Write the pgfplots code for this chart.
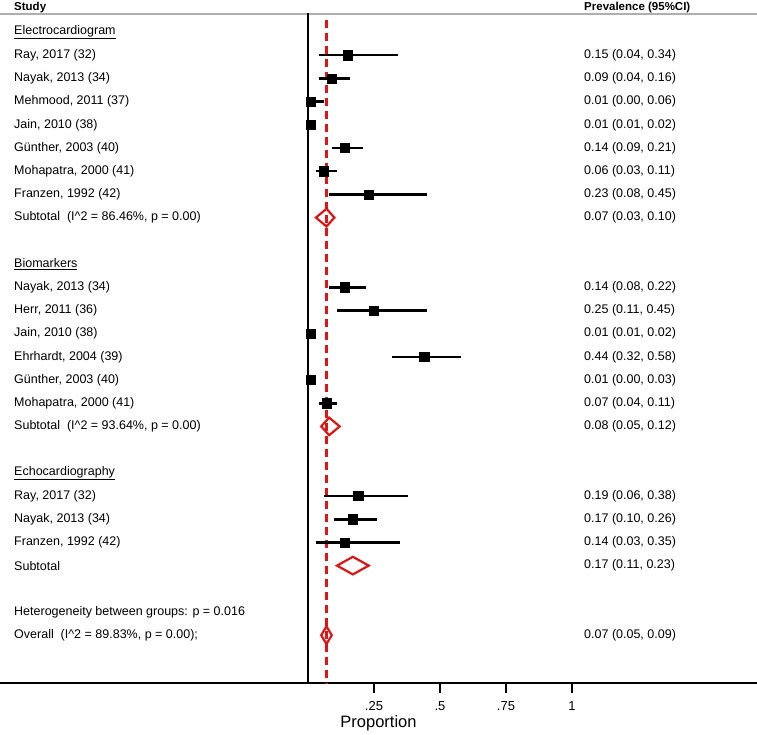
\documentclass[border=0pt]{standalone}
\usepackage{pgfplots}
\pgfplotsset{compat=1.18}
\usepackage{pgfplotstable}
\usepackage{fontspec}
\setmainfont{Liberation Sans}
\definecolor{hdrgray}{RGB}{175,175,175}
\definecolor{dred}{RGB}{225,20,20}

% studies: x = estimate, y = -row, em/ep = distance to CI limits
\pgfplotstableread{
x     y    em    ep
0.15  -1   0.11  0.19
0.09  -2   0.05  0.07
0.01  -3   0.01  0.05
0.01  -4   0.00  0.01
0.14  -5   0.05  0.07
0.06  -6   0.03  0.05
0.23  -7   0.15  0.22
0.14  -11  0.06  0.08
0.25  -12  0.14  0.20
0.01  -13  0.00  0.01
0.44  -14  0.12  0.14
0.01  -15  0.01  0.02
0.07  -16  0.03  0.04
0.19  -20  0.13  0.19
0.17  -21  0.07  0.09
0.14  -22  0.11  0.21
}\studies

\begin{document}
\begin{tikzpicture}
\begin{axis}[
  at={(0,0)}, anchor=north west,
  scale only axis, width=757pt, height=683pt,
  xmin=-1.1667, xmax=1.7008,
  ymin=-28.06, ymax=1.379,
  axis x line*=bottom, axis y line=none,
  axis line style={line width=2pt, black},
  xtick={0.25,0.5,0.75,1},
  xticklabels={.25,.5,.75,1},
  xtick align=outside,
  major tick length=10pt,
  tick style={line width=2pt, black},
  ticklabel style={font=\fontsize{13}{15}\selectfont},
  xticklabel style={yshift=-5pt},
  /pgf/number format/assume math mode=true,
  xlabel={Proportion},
  xlabel style={font=\fontsize{16.5}{18}\selectfont, yshift=2pt},
  clip=false,
]
% header rule
\draw[hdrgray, line width=1.5pt] (axis cs:-1.1667,0.78) -- (axis cs:1.7008,0.78);
% vertical lines
\addplot[black, line width=2.6pt, forget plot] coordinates {(0,0.80) (0,-28.06)};
\addplot[dred, line width=2.6pt, dash pattern=on 8pt off 5pt, forget plot] coordinates {(0.07,0.52) (0.07,-28.06)};
% studies
\addplot[only marks, mark=square*, mark size=4.6pt, black,
  error bars/.cd, x dir=both, x explicit, error mark=none,
  error bar style={line width=2.6pt, black}]
  table[x=x, y=y, x error minus=em, x error plus=ep] {\studies};
% diamonds
\addplot[dred, line width=2.2pt] coordinates {(0.03,-8) (0.07,-7.62) (0.10,-8) (0.07,-8.38)} -- cycle;
\addplot[dred, line width=2.2pt] coordinates {(0.05,-17) (0.08,-16.62) (0.12,-17) (0.08,-17.38)} -- cycle;
\addplot[dred, line width=2.2pt] coordinates {(0.11,-23) (0.17,-22.62) (0.23,-23) (0.17,-23.38)} -- cycle;
\addplot[dred, line width=2.2pt] coordinates {(0.05,-26) (0.07,-25.62) (0.09,-26) (0.07,-26.38)} -- cycle;

\begin{scope}[every node/.style={anchor=west, inner sep=0pt, font=\fontsize{12.5}{14}\selectfont}]
\node[font=\fontsize{11.5}{14}\selectfont\bfseries] at (axis cs:-1.1136,1.05) {Study};
\node[font=\fontsize{11.5}{14}\selectfont\bfseries] at (axis cs:1.0455,1.05) {Prevalence (95\%CI)};
\node at (axis cs:-1.1136,0) {\underline{Electrocardiogram}};
\node at (axis cs:-1.1136,-1) {Ray, 2017 (32)};
\node at (axis cs:-1.1136,-2) {Nayak, 2013 (34)};
\node at (axis cs:-1.1136,-3) {Mehmood, 2011 (37)};
\node at (axis cs:-1.1136,-4) {Jain, 2010 (38)};
\node at (axis cs:-1.1136,-5) {Günther, 2003 (40)};
\node at (axis cs:-1.1136,-6) {Mohapatra, 2000 (41)};
\node at (axis cs:-1.1136,-7) {Franzen, 1992 (42)};
\node at (axis cs:-1.1136,-8) {Subtotal\ \ (I\textasciicircum 2 = 86.46\%, p = 0.00)};
\node at (axis cs:-1.1136,-10) {\underline{Biomarkers}};
\node at (axis cs:-1.1136,-11) {Nayak, 2013 (34)};
\node at (axis cs:-1.1136,-12) {Herr, 2011 (36)};
\node at (axis cs:-1.1136,-13) {Jain, 2010 (38)};
\node at (axis cs:-1.1136,-14) {Ehrhardt, 2004 (39)};
\node at (axis cs:-1.1136,-15) {Günther, 2003 (40)};
\node at (axis cs:-1.1136,-16) {Mohapatra, 2000 (41)};
\node at (axis cs:-1.1136,-17) {Subtotal\ \ (I\textasciicircum 2 = 93.64\%, p = 0.00)};
\node at (axis cs:-1.1136,-19) {\underline{Echocardiography}};
\node at (axis cs:-1.1136,-20) {Ray, 2017 (32)};
\node at (axis cs:-1.1136,-21) {Nayak, 2013 (34)};
\node at (axis cs:-1.1136,-22) {Franzen, 1992 (42)};
\node at (axis cs:-1.1136,-23) {Subtotal};
\node at (axis cs:-1.1136,-25) {Heterogeneity between groups: p = 0.016};
\node at (axis cs:-1.1136,-26) {Overall\ \ (I\textasciicircum 2 = 89.83\%, p = 0.00);};
% right column
\node at (axis cs:1.0455,-1) {0.15 (0.04, 0.34)};
\node at (axis cs:1.0455,-2) {0.09 (0.04, 0.16)};
\node at (axis cs:1.0455,-3) {0.01 (0.00, 0.06)};
\node at (axis cs:1.0455,-4) {0.01 (0.01, 0.02)};
\node at (axis cs:1.0455,-5) {0.14 (0.09, 0.21)};
\node at (axis cs:1.0455,-6) {0.06 (0.03, 0.11)};
\node at (axis cs:1.0455,-7) {0.23 (0.08, 0.45)};
\node at (axis cs:1.0455,-8) {0.07 (0.03, 0.10)};
\node at (axis cs:1.0455,-11) {0.14 (0.08, 0.22)};
\node at (axis cs:1.0455,-12) {0.25 (0.11, 0.45)};
\node at (axis cs:1.0455,-13) {0.01 (0.01, 0.02)};
\node at (axis cs:1.0455,-14) {0.44 (0.32, 0.58)};
\node at (axis cs:1.0455,-15) {0.01 (0.00, 0.03)};
\node at (axis cs:1.0455,-16) {0.07 (0.04, 0.11)};
\node at (axis cs:1.0455,-17) {0.08 (0.05, 0.12)};
\node at (axis cs:1.0455,-20) {0.19 (0.06, 0.38)};
\node at (axis cs:1.0455,-21) {0.17 (0.10, 0.26)};
\node at (axis cs:1.0455,-22) {0.14 (0.03, 0.35)};
\node at (axis cs:1.0455,-23) {0.17 (0.11, 0.23)};
\node at (axis cs:1.0455,-26) {0.07 (0.05, 0.09)};
\end{scope}
\end{axis}
\pgfresetboundingbox
\path (0,0) rectangle (757pt,-735pt);
\end{tikzpicture}
\end{document}
